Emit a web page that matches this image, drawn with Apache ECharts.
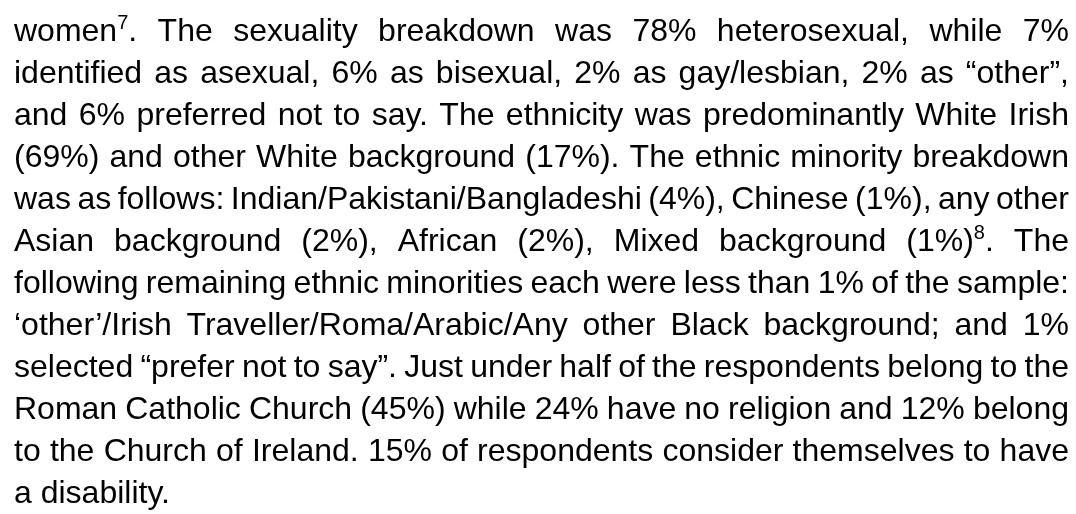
<!DOCTYPE html>
<html>
<head>
<meta charset="utf-8">
<script src="https://cdn.jsdelivr.net/npm/echarts@6/dist/echarts.min.js"></script>
<style>
html, body { margin: 0; padding: 0; background: #fff; }
#main { width: 1076px; height: 514px; }
</style>
</head>
<body>
<div id="main"></div>
<script>
// paragraph lines as they wrap in the reference; ^n marks a superscript
var lines = [
    'women^7. The sexuality breakdown was 78% heterosexual, while 7%',
    'identified as asexual, 6% as bisexual, 2% as gay/lesbian, 2% as \u201cother\u201d,',
    'and 6% preferred not to say. The ethnicity was predominantly White Irish',
    '(69%) and other White background (17%). The ethnic minority breakdown',
    'was as follows: Indian/Pakistani/Bangladeshi (4%), Chinese (1%), any other',
    'Asian background (2%), African (2%), Mixed background (1%)^8. The',
    'following remaining ethnic minorities each were less than 1% of the sample:',
    '\u2018other\u2019/Irish Traveller/Roma/Arabic/Any other Black background; and 1%',
    'selected \u201cprefer not to say\u201d. Just under half of the respondents belong to the',
    'Roman Catholic Church (45%) while 24% have no religion and 12% belong',
    'to the Church of Ireland. 15% of respondents consider themselves to have',
    'a disability.'
];

var fontFamily = '"Liberation Sans", Arial, sans-serif';
var fontSize = 32;
var supSize = 20;
var supLift = 9;
var left = 14, right = 1069;
var firstMid = 32.5, lineGap = 42;

var myCharts = echarts.init(document.getElementById('main'));

var ctx = document.createElement('canvas').getContext('2d');
function measure(text, size) {
    ctx.font = size + 'px ' + fontFamily;
    return ctx.measureText(text).width;
}

// split a word into normal / superscript pieces
function pieces(word) {
    var out = [];
    var parts = word.split(/\^(\d+)/);
    for (var i = 0; i < parts.length; i++) {
        if (parts[i] === '') continue;
        var sup = i % 2 === 1;
        out.push({ text: parts[i], sup: sup, w: measure(parts[i], sup ? supSize : fontSize) });
    }
    return out;
}

var elements = [];
lines.forEach(function (line, li) {
    var words = line.split(' ').map(function (w) {
        var p = pieces(w);
        var total = 0;
        p.forEach(function (q) { total += q.w; });
        return { parts: p, w: total };
    });
    var sum = 0;
    words.forEach(function (w) { sum += w.w; });
    var gap = measure(' ', fontSize);
    // justify every line but the last one
    if (li < lines.length - 1 && words.length > 1) {
        gap = (right - left - sum) / (words.length - 1);
    }
    var x = left;
    var y = firstMid + li * lineGap;
    words.forEach(function (w) {
        var px = x;
        w.parts.forEach(function (p) {
            elements.push({
                type: 'text',
                x: px,
                y: p.sup ? y - supLift : y,
                style: {
                    text: p.text,
                    fill: '#000',
                    font: (p.sup ? supSize : fontSize) + 'px ' + fontFamily,
                    align: 'left',
                    verticalAlign: 'middle'
                }
            });
            px += p.w;
        });
        x += w.w + gap;
    });
});

var option = {
    backgroundColor: '#fff',
    graphic: elements
};
myCharts.setOption(option);
</script>
</body>
</html>
